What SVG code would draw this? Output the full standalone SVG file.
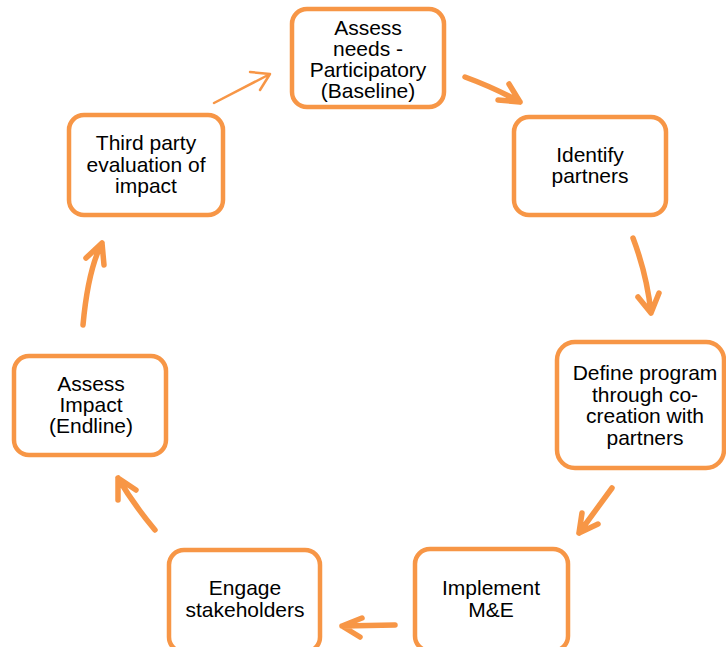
<svg xmlns="http://www.w3.org/2000/svg" width="726" height="647" viewBox="0 0 726 647">
<style>
.box{fill:#fff;stroke:#F79646;stroke-width:4.5}
.t{font-family:"Liberation Sans",Arial,sans-serif;font-size:21px;fill:#000;text-anchor:middle}
.c{fill:none;stroke:#F79646;stroke-width:5.5;stroke-linecap:round;stroke-linejoin:round}
.thin{stroke-width:2.5}
</style>
<rect width="726" height="647" fill="#fff"/>
<g id="connectors">
<path class="c thin" d="M214,103 L270,74 M250,72 L270,74 L260,90"/>
<path class="c" d="M465,77 Q495,88 520,102 M509,84 L520,102 L498,100"/>
<path class="c" d="M633,238 Q647,275 651,313 M638,297 L651,313 L659,293"/>
<path class="c" d="M612,488 L579,533 M582,513 L579,533 L598,524"/>
<path class="c" d="M395,625 L342,626 M362,618 L342,626 L360,637"/>
<path class="c" d="M155,530 Q134,505 118,478 M118,500 L118,478 L136,490"/>
<path class="c" d="M83,325 Q88,270 102,243 M86,258 L102,243 L104,265"/>
</g>
<g id="n1"><rect class="box" x="292" y="9" width="152" height="98" rx="15"/>
<text class="t" x="368" y="35">Assess</text><text class="t" x="368" y="56">needs -</text><text class="t" x="368" y="77">Participatory</text><text class="t" x="368" y="98">(Baseline)</text></g>
<g id="n2"><rect class="box" x="514" y="117" width="152" height="98" rx="15"/>
<text class="t" x="590" y="162">Identify</text><text class="t" x="590" y="183">partners</text></g>
<g id="n3"><rect class="box" x="557" y="342" width="167" height="126" rx="18"/>
<text class="t" x="645" y="380">Define program</text><text class="t" x="645" y="401.5">through co-</text><text class="t" x="645" y="423">creation with</text><text class="t" x="645" y="444.5">partners</text></g>
<g id="n4"><rect class="box" x="415" y="549" width="153" height="102" rx="15"/>
<text class="t" x="491" y="595">Implement</text><text class="t" x="491" y="617">M&amp;E</text></g>
<g id="n5"><rect class="box" x="169" y="550" width="151" height="102" rx="15"/>
<text class="t" x="245" y="595">Engage</text><text class="t" x="245" y="617">stakeholders</text></g>
<g id="n6"><rect class="box" x="14" y="356" width="152" height="99" rx="15"/>
<text class="t" x="91" y="391">Assess</text><text class="t" x="91" y="412">Impact</text><text class="t" x="91" y="433">(Endline)</text></g>
<g id="n7"><rect class="box" x="69" y="115" width="154" height="100" rx="15"/>
<text class="t" x="146" y="150">Third party</text><text class="t" x="146" y="171.5">evaluation of</text><text class="t" x="146" y="193">impact</text></g>
</svg>
